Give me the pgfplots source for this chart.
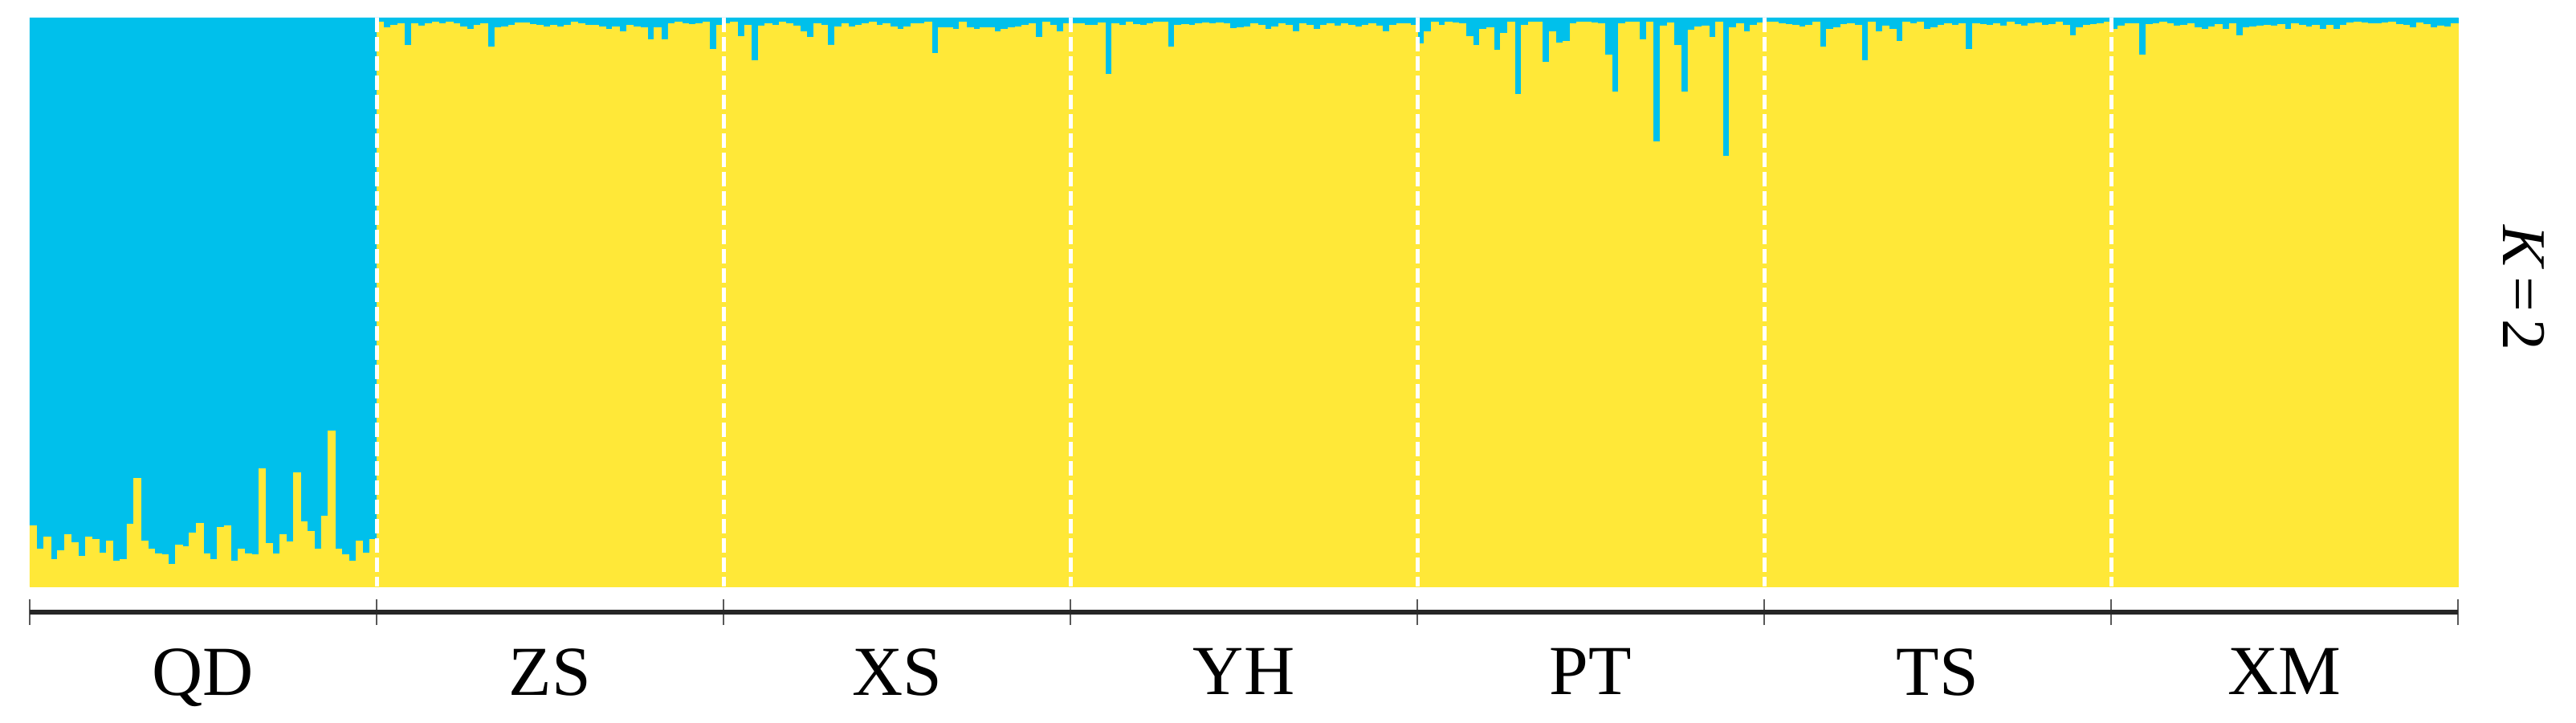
\documentclass[border=0pt]{standalone}
\usepackage{fontspec}
\setmainfont{Liberation Serif}
\usepackage{pgfplots}
\usepackage{pgfplotstable}
\pgfplotsset{compat=1.18}
\definecolor{kblue}{RGB}{0,192,235}
\definecolor{kyel}{RGB}{255,232,56}
% membership in the blue cluster (K=2), one row per individual, 50 per population
\pgfplotstableread[row sep=\\]{
b\\
0.893\\0.934\\0.913\\0.953\\0.937\\0.909\\0.923\\0.947\\0.913\\0.917\\
0.941\\0.920\\0.955\\0.952\\0.890\\0.810\\0.920\\0.934\\0.942\\0.944\\
0.961\\0.927\\0.930\\0.906\\0.889\\0.942\\0.952\\0.896\\0.893\\0.956\\
0.934\\0.942\\0.944\\0.793\\0.924\\0.943\\0.909\\0.921\\0.800\\0.886\\
0.903\\0.934\\0.876\\0.727\\0.934\\0.944\\0.956\\0.920\\0.941\\0.917\\
0.008\\0.017\\0.013\\0.011\\0.049\\0.011\\0.014\\0.011\\0.008\\0.011\\
0.008\\0.011\\0.016\\0.020\\0.013\\0.011\\0.052\\0.018\\0.016\\0.013\\
0.009\\0.009\\0.012\\0.013\\0.016\\0.013\\0.016\\0.013\\0.008\\0.011\\
0.013\\0.013\\0.016\\0.020\\0.016\\0.025\\0.013\\0.016\\0.018\\0.038\\
0.018\\0.038\\0.011\\0.008\\0.011\\0.012\\0.011\\0.008\\0.056\\0.013\\
0.011\\0.008\\0.033\\0.013\\0.076\\0.014\\0.011\\0.013\\0.008\\0.011\\
0.014\\0.025\\0.034\\0.011\\0.013\\0.048\\0.016\\0.011\\0.016\\0.013\\
0.011\\0.008\\0.013\\0.011\\0.016\\0.020\\0.016\\0.011\\0.011\\0.008\\
0.063\\0.018\\0.018\\0.020\\0.008\\0.018\\0.020\\0.017\\0.018\\0.025\\
0.020\\0.017\\0.016\\0.013\\0.011\\0.034\\0.008\\0.013\\0.025\\0.011\\
0.011\\0.011\\0.013\\0.013\\0.009\\0.100\\0.011\\0.013\\0.008\\0.012\\
0.013\\0.011\\0.008\\0.008\\0.052\\0.013\\0.012\\0.013\\0.011\\0.009\\
0.011\\0.009\\0.011\\0.019\\0.018\\0.016\\0.011\\0.013\\0.021\\0.016\\
0.011\\0.013\\0.024\\0.011\\0.013\\0.021\\0.013\\0.011\\0.014\\0.011\\
0.013\\0.016\\0.013\\0.011\\0.014\\0.024\\0.013\\0.011\\0.011\\0.013\\
0.046\\0.025\\0.008\\0.013\\0.008\\0.009\\0.011\\0.033\\0.049\\0.020\\
0.018\\0.057\\0.027\\0.008\\0.135\\0.013\\0.008\\0.008\\0.078\\0.025\\
0.045\\0.041\\0.011\\0.008\\0.008\\0.009\\0.011\\0.066\\0.131\\0.011\\
0.008\\0.008\\0.038\\0.008\\0.218\\0.014\\0.009\\0.049\\0.131\\0.022\\
0.016\\0.014\\0.034\\0.008\\0.243\\0.017\\0.011\\0.025\\0.013\\0.009\\
0.008\\0.008\\0.011\\0.012\\0.013\\0.016\\0.013\\0.008\\0.052\\0.020\\
0.017\\0.012\\0.011\\0.013\\0.076\\0.008\\0.025\\0.014\\0.020\\0.041\\
0.008\\0.011\\0.008\\0.020\\0.017\\0.013\\0.011\\0.013\\0.011\\0.056\\
0.011\\0.012\\0.013\\0.011\\0.014\\0.008\\0.012\\0.014\\0.011\\0.009\\
0.013\\0.012\\0.008\\0.013\\0.031\\0.018\\0.013\\0.012\\0.011\\0.008\\
0.020\\0.014\\0.011\\0.011\\0.065\\0.012\\0.011\\0.008\\0.011\\0.014\\
0.013\\0.011\\0.017\\0.020\\0.016\\0.012\\0.020\\0.011\\0.031\\0.018\\
0.016\\0.014\\0.013\\0.014\\0.012\\0.020\\0.011\\0.013\\0.016\\0.013\\
0.020\\0.013\\0.020\\0.013\\0.009\\0.008\\0.009\\0.011\\0.011\\0.009\\
0.008\\0.012\\0.013\\0.017\\0.009\\0.012\\0.017\\0.014\\0.016\\0.011\\
}\kdata
\pgfplotsset{kframe/.style={
  scale only axis, width=604.8pt, height=148pt,
  xmin=0, xmax=350, ymin=-0.0452, ymax=1}}
\begin{document}
\begin{tikzpicture}
\begin{axis}[
  name=ax, kframe,
  ybar stacked, bar width=1,
  axis x line=bottom, axis y line=none,
  x axis line style={-, line width=1.2pt, black!85},
  xtick={0,50,...,350}, xticklabels={},
  xtick align=center, major tick length=6.4pt,
  tick style={line width=0.5pt, black!65},
  extra x ticks={25,75,...,325},
  extra x tick labels={QD,ZS,XS,YH,PT,TS,XM},
  extra x tick style={major tick length=0pt, tick style={draw=none}},
  tick label style={font=\fontsize{17.5}{20}\selectfont, yshift=-5.5pt},
  clip=false,
]
\addplot[fill=kyel, draw=kyel, line width=0.15pt]
  table[x index=0, y index=0, x expr=\coordindex+0.5, y expr=1-\thisrowno{0}] {\kdata};
\addplot[fill=kblue, draw=kblue, line width=0.15pt]
  table[x index=0, y index=0, x expr=\coordindex+0.5, y expr=\thisrowno{0}] {\kdata};
\node[rotate=-90, font=\fontsize{15.5}{18}\selectfont] at ([xshift=16.4pt]axis cs:350,0.525) {\textit{K}\hspace{0.12em}=\hspace{0.12em}2};
\end{axis}
\begin{axis}[kframe, hide axis]
\pgfplotsinvokeforeach{50,100,150,200,250,300}{
  \addplot[white, line width=1pt, dash pattern=on 3.6pt off 1.2pt] coordinates {(#1,1) (#1,0)};
}
\end{axis}
\path ([shift={(-7.4pt,4.4pt)}]ax.north west) rectangle ([shift={(29.4pt,-27.4pt)}]ax.south east);
\end{tikzpicture}
\end{document}
